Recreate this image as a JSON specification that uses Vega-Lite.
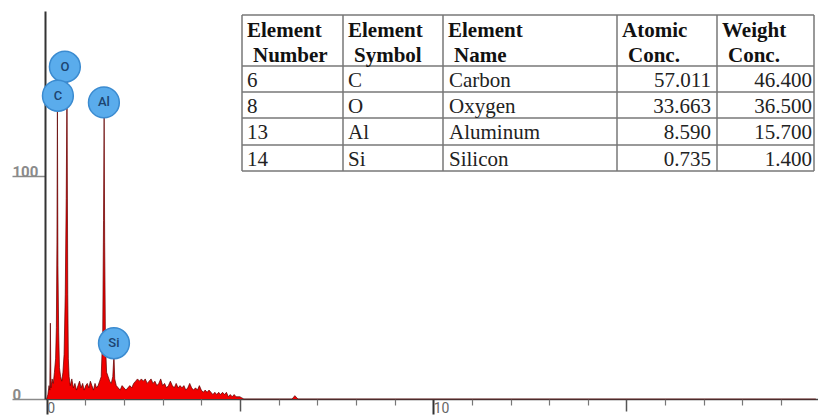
{
  "$schema": "https://vega.github.io/schema/vega-lite/v6.json",
  "width": 773,
  "height": 388,
  "autosize": {"type": "none"},
  "padding": {"left": 45, "top": 11, "right": 0, "bottom": 18},
  "background": "white",
  "config": {"view": {"stroke": null}},
  "datasets": {
    "spectrum": [
      {"e": 0.0, "c": 0}, {"e": 0.03, "c": 2}, {"e": 0.06, "c": 6}, {"e": 0.08, "c": 4},
      {"e": 0.095, "c": 34}, {"e": 0.11, "c": 5}, {"e": 0.14, "c": 9}, {"e": 0.17, "c": 7},
      {"e": 0.2, "c": 12}, {"e": 0.23, "c": 18}, {"e": 0.25, "c": 32}, {"e": 0.265, "c": 70},
      {"e": 0.277, "c": 134}, {"e": 0.29, "c": 60}, {"e": 0.31, "c": 30}, {"e": 0.33, "c": 14},
      {"e": 0.36, "c": 10}, {"e": 0.39, "c": 8}, {"e": 0.42, "c": 12}, {"e": 0.45, "c": 20},
      {"e": 0.48, "c": 47}, {"e": 0.505, "c": 90}, {"e": 0.525, "c": 143}, {"e": 0.545, "c": 47},
      {"e": 0.56, "c": 18}, {"e": 0.58, "c": 10}, {"e": 0.61, "c": 6}, {"e": 0.65, "c": 9},
      {"e": 0.69, "c": 5}, {"e": 0.73, "c": 7}, {"e": 0.77, "c": 4}, {"e": 0.81, "c": 6},
      {"e": 0.85, "c": 8}, {"e": 0.89, "c": 5}, {"e": 0.93, "c": 7}, {"e": 0.97, "c": 4},
      {"e": 1.01, "c": 6}, {"e": 1.05, "c": 7}, {"e": 1.09, "c": 5}, {"e": 1.13, "c": 8},
      {"e": 1.17, "c": 6}, {"e": 1.21, "c": 4}, {"e": 1.25, "c": 7}, {"e": 1.29, "c": 5},
      {"e": 1.33, "c": 6}, {"e": 1.37, "c": 8}, {"e": 1.41, "c": 10}, {"e": 1.45, "c": 30},
      {"e": 1.47, "c": 80}, {"e": 1.486, "c": 127}, {"e": 1.5, "c": 70}, {"e": 1.52, "c": 25},
      {"e": 1.55, "c": 12}, {"e": 1.59, "c": 10}, {"e": 1.63, "c": 8}, {"e": 1.67, "c": 7},
      {"e": 1.71, "c": 10}, {"e": 1.74, "c": 20}, {"e": 1.76, "c": 9}, {"e": 1.8, "c": 6},
      {"e": 1.85, "c": 5}, {"e": 1.9, "c": 4}, {"e": 1.95, "c": 6}, {"e": 2.0, "c": 5},
      {"e": 2.05, "c": 4}, {"e": 2.1, "c": 5}, {"e": 2.15, "c": 6}, {"e": 2.2, "c": 5},
      {"e": 2.25, "c": 7}, {"e": 2.3, "c": 8}, {"e": 2.35, "c": 9}, {"e": 2.4, "c": 8},
      {"e": 2.45, "c": 9}, {"e": 2.5, "c": 8}, {"e": 2.55, "c": 9}, {"e": 2.6, "c": 7},
      {"e": 2.65, "c": 8}, {"e": 2.7, "c": 9}, {"e": 2.75, "c": 7}, {"e": 2.8, "c": 8},
      {"e": 2.85, "c": 6}, {"e": 2.9, "c": 7}, {"e": 2.95, "c": 9}, {"e": 3.0, "c": 6},
      {"e": 3.05, "c": 7}, {"e": 3.1, "c": 5}, {"e": 3.15, "c": 6}, {"e": 3.2, "c": 8},
      {"e": 3.25, "c": 6}, {"e": 3.3, "c": 5}, {"e": 3.35, "c": 7}, {"e": 3.4, "c": 5},
      {"e": 3.45, "c": 6}, {"e": 3.5, "c": 5}, {"e": 3.55, "c": 6}, {"e": 3.6, "c": 4},
      {"e": 3.65, "c": 5}, {"e": 3.7, "c": 7}, {"e": 3.75, "c": 5}, {"e": 3.8, "c": 4},
      {"e": 3.85, "c": 5}, {"e": 3.9, "c": 4}, {"e": 3.95, "c": 6}, {"e": 4.0, "c": 4},
      {"e": 4.05, "c": 3}, {"e": 4.1, "c": 4}, {"e": 4.15, "c": 3}, {"e": 4.2, "c": 4},
      {"e": 4.25, "c": 3}, {"e": 4.3, "c": 2}, {"e": 4.35, "c": 3}, {"e": 4.4, "c": 2},
      {"e": 4.45, "c": 3}, {"e": 4.5, "c": 2}, {"e": 4.55, "c": 3}, {"e": 4.6, "c": 2},
      {"e": 4.65, "c": 3}, {"e": 4.7, "c": 1}, {"e": 4.75, "c": 2}, {"e": 4.8, "c": 1},
      {"e": 4.85, "c": 2}, {"e": 4.9, "c": 1}, {"e": 4.95, "c": 1}, {"e": 5.0, "c": 1},
      {"e": 5.05, "c": 0.5}, {"e": 5.1, "c": 0}, {"e": 6.35, "c": 0}, {"e": 6.42, "c": 1.5},
      {"e": 6.5, "c": 0}, {"e": 19.9, "c": 0}
    ],
    "markers": [
      {"el": "O", "e": 0.47, "c": 149},
      {"el": "C", "e": 0.29, "c": 136},
      {"el": "Al", "e": 1.48, "c": 133},
      {"el": "Si", "e": 1.74, "c": 25}
    ],
    "edges": [{"i": 0}, {"i": 1}, {"i": 2}, {"i": 3}, {"i": 4}, {"i": 5}],
    "header": [
      {"col": 0, "l1": "Element", "l2": "Number"},
      {"col": 1, "l1": "Element", "l2": "Symbol"},
      {"col": 2, "l1": "Element", "l2": "Name"},
      {"col": 3, "l1": "Atomic", "l2": "Conc."},
      {"col": 4, "l1": "Weight", "l2": "Conc."}
    ],
    "elements": [
      {"row": 1, "num": "6", "sym": "C", "name": "Carbon", "atomic": 57.011, "weight": 46.4},
      {"row": 2, "num": "8", "sym": "O", "name": "Oxygen", "atomic": 33.663, "weight": 36.5},
      {"row": 3, "num": "13", "sym": "Al", "name": "Aluminum", "atomic": 8.59, "weight": 15.7},
      {"row": 4, "num": "14", "sym": "Si", "name": "Silicon", "atomic": 0.735, "weight": 1.4}
    ]
  },
  "layer": [
    {
      "layer": [
        {
          "data": {"name": "spectrum"},
          "mark": {"type": "area", "color": "#f20000", "interpolate": "linear"},
          "encoding": {
            "x": {"field": "e", "type": "quantitative",
              "scale": {"domain": [-0.044, 19.956], "nice": false, "zero": false},
              "axis": {"orient": "bottom", "values": [0, 10], "title": null, "grid": false,
                "tickSize": 15, "tickWidth": 2, "tickColor": "#333", "domainColor": "#444", "domainWidth": 1.5,
                "labelAlign": "left", "labelBaseline": "top", "labelPadding": -13, "labelDx": 3,
                "labelFont": "Roboto", "labelFontSize": 14, "labelColor": "#666", "labelFlush": false}},
            "y": {"field": "c", "type": "quantitative",
              "scale": {"domain": [0, 174], "nice": false, "zero": false},
              "axis": {"orient": "left", "values": [0, 100], "title": null, "grid": false,
                "tickSize": 33, "tickWidth": 1.5, "tickColor": "#8a8a8a", "domainColor": "#333", "domainWidth": 2,
                "labelAlign": "left", "labelBaseline": "alphabetic", "labelPadding": 0, "labelDy": -8,
                "labelFont": "Roboto", "labelFontSize": 15, "labelFontWeight": "bold", "labelColor": "#8a8a8a"}}
          }
        },
        {
          "data": {"name": "spectrum"},
          "mark": {"type": "line", "color": "#5c0000", "strokeWidth": 1, "opacity": 0.7, "interpolate": "linear"},
          "encoding": {
            "x": {"field": "e", "type": "quantitative",
              "axis": {"orient": "bottom", "values": [5, 15], "title": null, "grid": false, "labels": false, "domain": false,
                "tickSize": 12, "tickWidth": 1.5, "tickColor": "#555"}},
            "y": {"field": "c", "type": "quantitative", "axis": null}
          }
        },
        {
          "data": {"name": "markers"},
          "mark": {"type": "point", "shape": "circle", "filled": true, "size": 950, "fill": "#5aacec", "stroke": "#3b8bd0", "strokeWidth": 1.5, "opacity": 1},
          "encoding": {
            "x": {"field": "e", "type": "quantitative",
              "axis": {"orient": "bottom", "values": [1, 2, 3, 4, 6, 7, 8, 9, 11, 12, 13, 14, 16, 17, 18, 19], "title": null, "grid": false, "labels": false, "domain": false,
                "tickSize": 6, "tickWidth": 1.2, "tickColor": "#777"}},
            "y": {"field": "c", "type": "quantitative", "axis": null}
          }
        },
        {
          "data": {"name": "markers"},
          "mark": {"type": "text", "font": "Roboto", "fontSize": 13, "fontWeight": 500, "color": "#1d4470", "align": "center", "baseline": "middle"},
          "encoding": {
            "x": {"field": "e", "type": "quantitative", "axis": null},
            "y": {"field": "c", "type": "quantitative", "axis": null},
            "text": {"field": "el", "type": "nominal"}
          }
        }
      ],
      "resolve": {"axis": {"x": "independent", "y": "independent"}}
    },
    {
      "layer": [
        {
          "data": {"name": "edges"},
          "mark": {"type": "rule", "color": "#777", "strokeWidth": 1.5},
          "encoding": {
            "x": {"field": "i", "type": "quantitative", "axis": null,
              "scale": {"domain": [0, 1, 2, 3, 4, 5], "range": [197, 298, 398, 572, 672, 769], "nice": false, "zero": false}},
            "y": {"datum": 0, "type": "quantitative", "axis": null,
              "scale": {"domain": [0, 1, 2, 3, 4, 5], "range": [4, 55, 81, 107, 134, 160], "nice": false, "zero": false}},
            "y2": {"datum": 5}
          }
        },
        {
          "data": {"name": "edges"},
          "mark": {"type": "rule", "color": "#777", "strokeWidth": 1.5},
          "encoding": {
            "y": {"field": "i", "type": "quantitative", "axis": null},
            "x": {"datum": 0, "type": "quantitative", "axis": null},
            "x2": {"datum": 5}
          }
        },
        {
          "data": {"name": "header"},
          "mark": {"type": "text", "font": "Liberation Serif", "fontSize": 21, "fontWeight": "bold", "color": "#111",
            "align": "left", "baseline": "alphabetic", "dx": 5, "dy": 22},
          "encoding": {
            "x": {"field": "col", "type": "quantitative", "axis": null},
            "y": {"datum": 0, "type": "quantitative", "axis": null},
            "text": {"field": "l1", "type": "nominal"}
          }
        },
        {
          "data": {"name": "header"},
          "mark": {"type": "text", "font": "Liberation Serif", "fontSize": 21, "fontWeight": "bold", "color": "#111",
            "align": "left", "baseline": "alphabetic", "dx": 11, "dy": 47},
          "encoding": {
            "x": {"field": "col", "type": "quantitative", "axis": null},
            "y": {"datum": 0, "type": "quantitative", "axis": null},
            "text": {"field": "l2", "type": "nominal"}
          }
        },
        {
          "data": {"name": "elements"},
          "mark": {"type": "text", "font": "Liberation Serif", "fontSize": 21, "color": "#222", "align": "left", "baseline": "alphabetic", "dx": 5, "dy": 21},
          "encoding": {
            "x": {"datum": 0, "type": "quantitative", "axis": null},
            "y": {"field": "row", "type": "quantitative", "axis": null},
            "text": {"field": "num", "type": "nominal"}
          }
        },
        {
          "data": {"name": "elements"},
          "mark": {"type": "text", "font": "Liberation Serif", "fontSize": 21, "color": "#222", "align": "left", "baseline": "alphabetic", "dx": 5, "dy": 21},
          "encoding": {
            "x": {"datum": 1, "type": "quantitative", "axis": null},
            "y": {"field": "row", "type": "quantitative", "axis": null},
            "text": {"field": "sym", "type": "nominal"}
          }
        },
        {
          "data": {"name": "elements"},
          "mark": {"type": "text", "font": "Liberation Serif", "fontSize": 21, "color": "#222", "align": "left", "baseline": "alphabetic", "dx": 6, "dy": 21},
          "encoding": {
            "x": {"datum": 2, "type": "quantitative", "axis": null},
            "y": {"field": "row", "type": "quantitative", "axis": null},
            "text": {"field": "name", "type": "nominal"}
          }
        },
        {
          "data": {"name": "elements"},
          "mark": {"type": "text", "font": "Liberation Serif", "fontSize": 21, "color": "#222", "align": "right", "baseline": "alphabetic", "dx": -6, "dy": 21},
          "encoding": {
            "x": {"datum": 4, "type": "quantitative", "axis": null},
            "y": {"field": "row", "type": "quantitative", "axis": null},
            "text": {"field": "atomic", "type": "quantitative", "format": ".3f"}
          }
        },
        {
          "data": {"name": "elements"},
          "mark": {"type": "text", "font": "Liberation Serif", "fontSize": 21, "color": "#222", "align": "right", "baseline": "alphabetic", "dx": -2, "dy": 21},
          "encoding": {
            "x": {"datum": 5, "type": "quantitative", "axis": null},
            "y": {"field": "row", "type": "quantitative", "axis": null},
            "text": {"field": "weight", "type": "quantitative", "format": ".3f"}
          }
        }
      ]
    }
  ],
  "resolve": {"scale": {"x": "independent", "y": "independent"}}
}
